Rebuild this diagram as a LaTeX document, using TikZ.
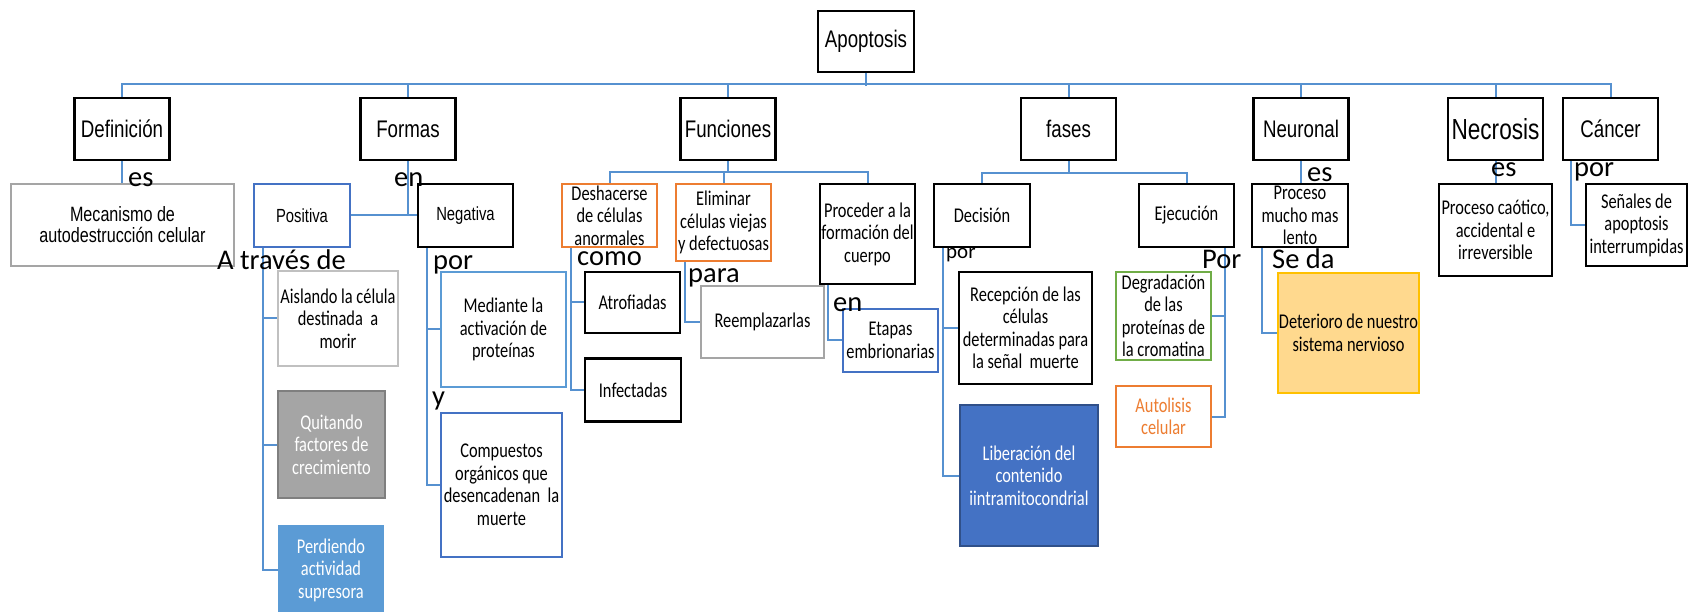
\documentclass[tikz,border=0pt]{standalone}
\usepackage{fontspec}
\setmainfont{Carlito}
\newfontfamily\headfont{Liberation Sans}[FakeStretch=0.78]
\newfontfamily\boxfont{Carlito}[FakeStretch=0.78]
\usetikzlibrary{calc}
\definecolor{enlaceazul}{RGB}{86,145,208}
\definecolor{azul}{RGB}{68,114,196}
\definecolor{azulclaro}{RGB}{91,155,213}
\definecolor{naranja}{RGB}{237,125,49}
\definecolor{verde}{RGB}{112,173,71}
\definecolor{gris}{RGB}{165,165,165}
\definecolor{grisoscuro}{RGB}{127,127,127}
\definecolor{amarillo}{RGB}{255,217,142}
\definecolor{dorado}{RGB}{255,192,0}
\tikzset{
	caja/.style={draw=black, line width=2.2pt, inner sep=0pt, align=center, text=black},
	titulo/.style={caja, font=\headfont\fontsize{24}{26}\selectfont, minimum width=95, minimum height=62},
	rama/.style={caja, font=\boxfont\fontsize{21}{22.5}\selectfont},
	enlace/.style={draw=enlaceazul, line width=2pt},
	palabra/.style={anchor=base west, inner sep=0pt, font=\fontsize{28.5}{30}\selectfont}
}

\begin{document}
\begin{tikzpicture}[x=1pt, y=-1pt]
		%%%%% START %%%%%
		
		\useasboundingbox (0, 0) rectangle (1690, 612);
		\fill[white] (0, 0) rectangle (1690, 612);
		\clip (0, 0) rectangle (1690, 612);
		
		\node[titulo, minimum width=96, minimum height=61] (apo) at (866, 41.5) {Apoptosis};
		
		\node[titulo] (def) at (122, 129) {Definición};
		\node[titulo] (formas) at (408, 129) {Formas};
		\node[titulo] (func) at (728, 129) {Funciones};
		\node[titulo] (fases) at (1068.5, 129) {fases};
		\node[titulo] (neur) at (1301, 129) {Neuronal};
		\node[titulo, font=\headfont\fontsize{29}{31}\selectfont] (necro) at (1495.5, 129) {Necrosis};
		\node[titulo] (cancer) at (1610.5, 129) {Cáncer};
		
		% definicion y formas
		\node[caja, draw=gris, font=\headfont\fontsize{20.7}{21}\selectfont, minimum width=223, minimum height=82] (mecan) at (122.5, 225) {Mecanismo de\\autodestrucción celular};
		\node[caja, draw=azul, font=\headfont\fontsize{19}{21}\selectfont, minimum width=96, minimum height=63] (posit) at (302, 215.5) {Positiva};
		\node[caja, font=\headfont\fontsize{19}{21}\selectfont, minimum width=95, minimum height=63] (negat) at (465.5, 215.5) {Negativa};
		
		\node[rama, draw=gris!70, line width=2pt, minimum width=120, minimum height=95] (aisl) at (338, 318.5) {Aislando la célula\\destinada~ a\\morir};
		\node[rama, draw=grisoscuro, fill=gris, text=white, minimum width=107, minimum height=107] (quit) at (331.5, 444.5) {Quitando\\factores de\\crecimiento};
		\node[rama, draw=azulclaro, fill=azulclaro, text=white, minimum width=104, minimum height=88] (perd) at (331, 570) {Perdiendo\\actividad\\supresora};
		
		\node[rama, draw=azulclaro, minimum width=125, minimum height=115] (medi) at (503.5, 329.5) {Mediante la\\activación de\\proteínas};
		\node[rama, draw=azul, minimum width=121, minimum height=144] (compu) at (501.5, 485) {Compuestos\\orgánicos que\\desencadenan~ la\\muerte};
		
		% funciones
		\node[rama, draw=naranja, minimum width=95, minimum height=63] (desh) at (609.5, 215.5) {Deshacerse\\de células\\anormales};
		\node[rama, draw=naranja, minimum width=95, minimum height=77] (elim) at (723.5, 222.5) {Eliminar\\células viejas\\y defectuosas};
		\node[rama, minimum width=95, minimum height=100] (proc) at (867.5, 234) {Proceder a la\\formación del\\cuerpo};
		
		\node[rama, minimum width=95, minimum height=61] (atro) at (632.5, 302.5) {Atrofiadas};
		\node[rama, minimum width=96, minimum height=63] (infe) at (633, 390) {Infectadas};
		\node[rama, draw=gris, minimum width=123, minimum height=72] (reem) at (762.5, 322) {Reemplazarlas};
		\node[rama, draw=azul, minimum width=95, minimum height=63] (etap) at (890.5, 340.5) {Etapas\\embrionarias};
		
		% fases
		\node[rama, minimum width=96, minimum height=63] (deci) at (982, 215.5) {Decisión};
		\node[rama, minimum width=95, minimum height=63] (ejec) at (1186.5, 215.5) {Ejecución};
		
		\node[rama, minimum width=133, minimum height=112] (recep) at (1025.5, 328) {Recepción de las\\células\\determinadas para\\la señal~ muerte};
		\node[rama, draw=azul!70!black, fill=azul, text=white, minimum width=138, minimum height=141] (liber) at (1029, 475.5) {Liberación del\\contenido\\iintramitocondrial};
		\node[rama, draw=verde, minimum width=95, minimum height=88] (degr) at (1163.5, 316) {Degradación\\de las\\proteínas de\\la cromatina};
		\node[rama, draw=naranja, text=naranja, minimum width=95, minimum height=61] (auto) at (1163.5, 416.5) {Autolisis\\celular};
		
		% neuronal, necrosis, cancer
		\node[rama, minimum width=96, minimum height=63] (pneur) at (1300, 215.5) {Proceso\\mucho mas\\lento};
		\node[rama, draw=dorado, line width=1.5pt, fill=amarillo, minimum width=141, minimum height=120] (deter) at (1348.5, 333) {Deterioro de nuestro\\sistema nervioso};
		\node[rama, minimum width=113, minimum height=92] (caot) at (1495.5, 230) {Proceso caótico,\\accidental e\\irreversible};
		\node[rama, minimum width=101, minimum height=82] (senal) at (1636.5, 225) {Señales de\\apoptosis\\interrumpidas};
		
		% conectores
		\draw[enlace] (apo.south) -- ++(0, 13);
		\draw[enlace] (def.north) -- ++(0, -13) -| (cancer.north);
		\foreach \n in {formas, func, fases, neur, necro}
			\draw[enlace] (\n.north) -- ++(0, -13);
		
		\draw[enlace] (def.south) -- (def.south |- mecan.north);
		\draw[enlace] (formas.south) -- (formas.south |- posit.east);
		\draw[enlace] (posit.east) -- (negat.west);
		\foreach \n in {aisl, quit, perd}
			\draw[enlace] ([xshift=10]posit.south west) |- (\n.west);
		\foreach \n in {medi, compu}
			\draw[enlace] ([xshift=10]negat.south west) |- (\n.west);
		
		\coordinate (funcbus) at ($(func.south)+(0, 11)$);
		\draw[enlace] (func.south) -- (funcbus);
		\draw[enlace] (desh.north) |- (funcbus) -| (proc.north);
		\draw[enlace] (elim.north) -- (elim.north |- funcbus);
		\foreach \n in {atro, infe}
			\draw[enlace] ([xshift=10]desh.south west) |- (\n.west);
		\draw[enlace] ([xshift=10]elim.south west) |- (reem.west);
		\draw[enlace] ([xshift=9]proc.south west) |- (etap.west);
		
		\coordinate (fasesbus) at ($(fases.south)+(0, 12)$);
		\draw[enlace] (fases.south) -- (fasesbus);
		\draw[enlace] (deci.north) |- (fasesbus) -| (ejec.north);
		\foreach \n in {recep, liber}
			\draw[enlace] ([xshift=10]deci.south west) |- (\n.west);
		\foreach \n in {degr, auto}
			\draw[enlace] ([xshift=-10]ejec.south east) |- (\n.east);
		
		\draw[enlace] (neur.south) -- (neur.south |- pneur.north);
		\draw[enlace] ([xshift=11]pneur.south west) |- (deter.west);
		\draw[enlace] (necro.south) -- (necro.south |- caot.north);
		\draw[enlace] ([xshift=9]cancer.south west) |- (senal.west);
		
		% palabras de enlace
		\node[palabra] (p-es1) at (128, 187) {es};
		\node[palabra] (p-en1) at (394, 187) {en};
		\node[palabra] (p-traves) at (217, 270) {A través de};
		\node[palabra] (p-por1) at (433, 270) {por};
		\node[palabra] (p-y) at (432, 405) {y};
		\node[palabra] (p-como) at (577, 266) {como};
		\node[palabra] (p-para) at (688, 283) {para};
		\node[palabra] (p-en2) at (833, 312) {en};
		\node[palabra, font=\fontsize{21}{22}\selectfont] (p-por2) at (946, 259) {por};
		\node[palabra] (p-Por) at (1202, 269) {Por};
		\node[palabra] (p-es2) at (1307, 182) {es};
		\node[palabra] (p-seda) at (1272, 269) {Se da};
		\node[palabra] (p-es3) at (1491, 177) {es};
		\node[palabra] (p-por3) at (1574, 177) {por};
		
		%%%%% END %%%%%
	\end{tikzpicture}
\end{document}
